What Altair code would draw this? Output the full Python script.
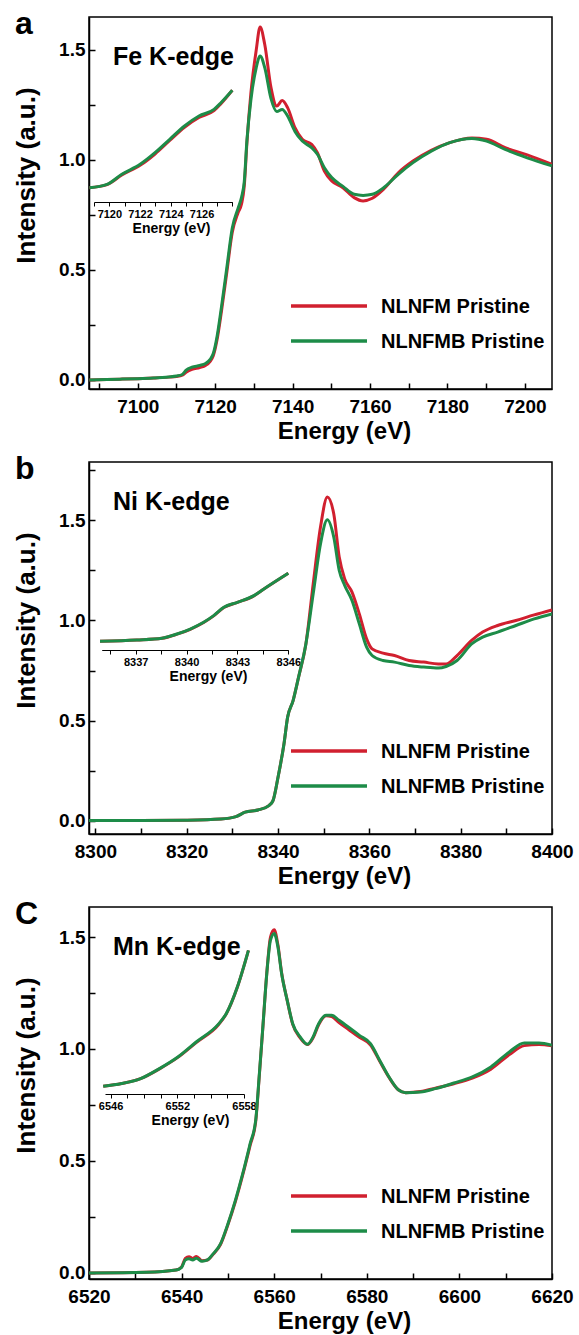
import altair as alt
import pandas as pd

SERIES = ["NLNFM Pristine", "NLNFMB Pristine"]
COLORS = ["#d1202f", "#1d8c48"]
FONT = "Liberation Sans"
PANELS = ["a", "b", "C"]
EDGES = ["Fe K-edge", "Ni K-edge", "Mn K-edge"]

# ---------------- Panel a: Fe K-edge ----------------
FE_E = [7087.5, 7092, 7096, 7100, 7104, 7108, 7110, 7111.5, 7112.5, 7114, 7116, 7117.5,
        7118.7, 7119.5, 7120.5, 7121.6, 7123, 7124.4, 7125.9, 7126.8, 7127.5, 7128.2, 7129.2,
        7130.6, 7131.6, 7132.8, 7134.4, 7135.9, 7137.3, 7138.7, 7140.6, 7142.5, 7144.9, 7146.4,
        7148.2, 7150.1, 7153, 7155.9, 7158.2, 7160.6, 7163.5, 7167.3, 7171.1, 7175.8, 7180.6,
        7186.3, 7190.1, 7194.9, 7200.6, 7207]
FE_NLNFM = [0.0, 0.002, 0.004, 0.006, 0.009, 0.013, 0.016, 0.022, 0.035, 0.048, 0.057, 0.066,
            0.085, 0.11, 0.185, 0.31, 0.49, 0.67, 0.76, 0.8, 0.88, 1.08, 1.3,
            1.5, 1.605, 1.525, 1.33, 1.245, 1.27, 1.238, 1.147, 1.094, 1.071, 1.033,
            0.95, 0.905, 0.874, 0.829, 0.814, 0.826, 0.867, 0.942, 0.995, 1.044, 1.079,
            1.1, 1.094, 1.056, 1.023, 0.98]
FE_NLNFMB = [0.0, 0.002, 0.004, 0.006, 0.009, 0.014, 0.018, 0.025, 0.045, 0.058, 0.066, 0.075,
             0.094, 0.12, 0.2, 0.33, 0.51, 0.69, 0.78, 0.83, 0.9, 1.09, 1.27,
             1.42, 1.473, 1.42, 1.28, 1.22, 1.23, 1.2, 1.13, 1.086, 1.056, 1.026,
             0.965, 0.92, 0.88, 0.844, 0.839, 0.844, 0.874, 0.935, 0.988, 1.04, 1.079,
             1.098, 1.086, 1.048, 1.01, 0.973]
FE_IN_E = [7118.7, 7119.85, 7120.81, 7122.0, 7122.97, 7123.93, 7124.89, 7125.83, 7126.81, 7127.26, 7128.0]
FE_IN_NLNFM = [0.102, 0.124, 0.193, 0.262, 0.343, 0.44, 0.534, 0.604, 0.652, 0.702, 0.798]
FE_IN_NLNFMB = [0.102, 0.126, 0.198, 0.269, 0.352, 0.448, 0.543, 0.614, 0.662, 0.709, 0.798]

# ---------------- Panel b: Ni K-edge ----------------
NI_E = [8298.6, 8305, 8310, 8319.5, 8327.5, 8330.8, 8332.8, 8335.6, 8338, 8338.9, 8340, 8341.3,
        8342.1, 8343.3, 8344.5, 8346.1, 8347.7, 8349.3, 8350.8, 8352.2, 8353.4, 8354.6, 8356.2,
        8357.8, 8359.4, 8360.6, 8363, 8365.5, 8368.7, 8371.9, 8375.1, 8376.8, 8379.2, 8382.4,
        8384.8, 8388.1, 8392.1, 8396.1, 8400]
NI_NLNFM = [0.0, 0.0, 0.0, 0.002, 0.008, 0.02, 0.042, 0.053, 0.075, 0.1, 0.217, 0.383,
            0.517, 0.6, 0.717, 0.883, 1.183, 1.467, 1.617, 1.533, 1.317, 1.208, 1.142,
            1.033, 0.908, 0.858, 0.837, 0.825, 0.8, 0.792, 0.783, 0.783, 0.825, 0.9,
            0.942, 0.975, 1.0, 1.028, 1.053]
NI_NLNFMB = [0.0, 0.0, 0.0, 0.002, 0.008, 0.02, 0.042, 0.053, 0.075, 0.1, 0.217, 0.383,
             0.517, 0.6, 0.717, 0.883, 1.133, 1.383, 1.503, 1.417, 1.25, 1.175, 1.1,
             0.983, 0.867, 0.825, 0.8, 0.792, 0.775, 0.767, 0.762, 0.77, 0.8, 0.883,
             0.917, 0.942, 0.975, 1.008, 1.033]
NI_IN_E = [8334.9, 8337.07, 8338.55, 8339.44, 8340.22, 8341.01, 8341.6, 8342.2, 8343.0, 8343.97, 8344.56, 8346.0]
NI_IN_NLNFM = [0.05, 0.066, 0.087, 0.137, 0.197, 0.279, 0.36, 0.462, 0.524, 0.605, 0.687, 0.88]
NI_IN_NLNFMB = [0.05, 0.066, 0.087, 0.139, 0.2, 0.282, 0.363, 0.465, 0.526, 0.607, 0.689, 0.88]

# ---------------- Panel c: Mn K-edge ----------------
MN_E = [6520, 6532.4, 6538.8, 6540, 6540.8, 6541.6, 6542.4, 6543.2, 6544.4, 6545.6, 6546.8,
        6548.4, 6550, 6551.6, 6553.2, 6554.8, 6556, 6556.8, 6557.6, 6558.4, 6559.2, 6560,
        6560.8, 6561.6, 6562.8, 6564, 6565.6, 6567.2, 6568.4, 6569.6, 6571.2, 6572.4, 6574,
        6576, 6578.4, 6580.8, 6582.8, 6584.8, 6586.8, 6588.4, 6591.6, 6594.8, 6598.8, 6602.8,
        6606.8, 6610.8, 6614, 6617.2, 6620]
MN_NLNFM = [0.0, 0.003, 0.013, 0.027, 0.065, 0.072, 0.065, 0.074, 0.055, 0.058, 0.083,
            0.127, 0.215, 0.318, 0.438, 0.57, 0.675, 0.885, 1.11, 1.34, 1.5, 1.532,
            1.465, 1.34, 1.218, 1.11, 1.05, 1.02, 1.05, 1.108, 1.148, 1.145, 1.118,
            1.088, 1.052, 1.018, 0.945, 0.873, 0.818, 0.805, 0.81, 0.825, 0.845, 0.87,
            0.91, 0.975, 1.015, 1.02, 1.014]
MN_NLNFMB = [0.0, 0.003, 0.013, 0.025, 0.058, 0.063, 0.058, 0.066, 0.052, 0.058, 0.085,
             0.13, 0.219, 0.323, 0.443, 0.577, 0.681, 0.89, 1.113, 1.337, 1.486, 1.516,
             1.456, 1.337, 1.218, 1.113, 1.054, 1.021, 1.054, 1.113, 1.151, 1.151, 1.128,
             1.098, 1.061, 1.024, 0.949, 0.875, 0.818, 0.805, 0.808, 0.823, 0.848, 0.875,
             0.92, 0.987, 1.027, 1.027, 1.016]
MN_IN_E = [6545.34, 6547.0, 6548.7, 6550.4, 6552.05, 6553.7, 6555.74, 6556.4, 6557.4, 6558.4]
MN_IN_NLNFM = [0.05, 0.074, 0.117, 0.204, 0.305, 0.436, 0.598, 0.688, 0.924, 1.25]
MN_IN_NLNFMB = [0.05, 0.074, 0.118, 0.206, 0.308, 0.441, 0.603, 0.691, 0.926, 1.25]

# axis ticks / labels
FE_XTICKS = list(range(7090, 7201, 10))
NI_XTICKS = list(range(8300, 8401, 10))
MN_XTICKS = list(range(6520, 6621, 10))
Y_TICKS_AC = [0, 0.25, 0.5, 0.75, 1.0, 1.25, 1.5]
Y_TICKS_B = [0, 0.25, 0.5, 0.75, 1.0, 1.25, 1.5, 1.75]
FE_IN_TICKS = list(range(7119, 7129))
FE_IN_LABELS = [7120, 7122, 7124, 7126]
NI_IN_TICKS = [8335.5, 8337, 8338.5, 8340, 8341.5, 8343, 8344.5, 8346]
NI_IN_LABELS = [8337, 8340, 8343, 8346]
MN_IN_TICKS = [6546, 6547.5, 6549, 6550.5, 6552, 6553.5, 6555, 6556.5, 6558]
MN_IN_LABELS = [6546, 6552, 6558]

W, H = 463, 372
SCALE_COLOR = alt.Scale(domain=SERIES, range=COLORS)


def long_df(E, a, b):
    return pd.DataFrame({
        "E": list(E) + list(E),
        "I": list(a) + list(b),
        "series": [SERIES[0]] * len(E) + [SERIES[1]] * len(E),
    })


def label_expr(vals):
    arr = ",".join(str(v) for v in vals)
    return f"indexof([{arr}], datum.value) >= 0 ? format(datum.value, 'd') : ''"


def panel(letter, edge, E, a, b, xdom, ydom, xticks, yticks,
          iE, ia, ib, idom, irange, iydom, iyrange, iticks, ilabels, ioffset, ititleX):
    main = alt.Chart(long_df(E, a, b)).mark_line(
        strokeWidth=3, clip=True, interpolate="monotone").encode(
        x=alt.X("E:Q", scale=alt.Scale(domain=xdom, nice=False, zero=False),
                axis=alt.Axis(values=xticks,
                              labelExpr="datum.value % 20 == 0 ? format(datum.value, 'd') : ''",
                              title="Energy (eV)", titleX=255, titleY=30, titleBaseline="top",
                              titleFontSize=24, labelFontSize=19, labelPadding=14,
                              tickSize={"expr": "-6"})),
        y=alt.Y("I:Q", scale=alt.Scale(domain=ydom, nice=False, zero=False),
                axis=alt.Axis(values=yticks,
                              labelExpr="datum.value % 0.5 == 0 ? format(datum.value, '.1f') : ''",
                              title="Intensity (a.u.)", titleX=-55, titleY=158, titleAngle=270,
                              titleAlign="center", titleBaseline="alphabetic",
                              titleFontSize=26, labelFontSize=19, labelPadding=10,
                              tickSize={"expr": "-6"})),
        color=alt.Color("series:N", scale=SCALE_COLOR, legend=None),
        detail="series:N",
    )
    inset = alt.Chart(long_df(iE, ia, ib)).mark_line(
        strokeWidth=3, interpolate="monotone").encode(
        x=alt.X("E:Q", scale=alt.Scale(domain=idom, range=irange, nice=False, zero=False),
                axis=alt.Axis(orient="bottom", offset=ioffset, values=iticks,
                              labelExpr=label_expr(ilabels), title="Energy (eV)",
                              titleX=ititleX, titleFontSize=14, labelFontSize=11,
                              labelPadding=2, titlePadding=2, tickSize=4, tickWidth=1,
                              domainWidth=1.2)),
        y=alt.Y("I:Q", scale=alt.Scale(domain=iydom, range=iyrange, nice=False, zero=False),
                axis=None),
        color=alt.Color("series:N", scale=SCALE_COLOR, legend=None),
    )
    edge_txt = alt.Chart(pd.DataFrame({"t": [edge]})).mark_text(
        align="left", baseline="alphabetic", fontSize=25, fontWeight="bold", font=FONT
    ).encode(x=alt.value(24), y=alt.value(48), text="t:N")
    letter_txt = alt.Chart(pd.DataFrame({"t": [letter]})).mark_text(
        align="left", baseline="alphabetic", fontSize=32, fontWeight="bold", font=FONT
    ).encode(x=alt.value(-74), y=alt.value(17), text="t:N")
    layers = [main, inset, edge_txt, letter_txt]
    for i, s in enumerate(SERIES):
        d = pd.DataFrame({"series": [s]})
        layers.append(alt.Chart(d).mark_rule(strokeWidth=3.5).encode(
            x=alt.value(202), x2=alt.value(278), y=alt.value(289 + 35 * i),
            color=alt.value(COLORS[i])))
        layers.append(alt.Chart(d).mark_text(
            align="left", baseline="middle", fontSize=20, fontWeight="bold", font=FONT,
            color="black").encode(x=alt.value(292), y=alt.value(290 + 35 * i), text="series:N"))
    return alt.layer(*layers).resolve_scale(x="independent", y="independent").properties(
        width=W, height=H)


pa = panel("a", EDGES[0], FE_E, FE_NLNFM, FE_NLNFMB, [7087.4, 7207], [-0.041, 1.65],
           FE_XTICKS, Y_TICKS_AC, FE_IN_E, FE_IN_NLNFM, FE_IN_NLNFMB,
           [7119, 7128], [5, 143.3], [0.1, 0.8], [171, 73], FE_IN_TICKS, FE_IN_LABELS,
           -187, 82)
pb = panel("b", EDGES[1], NI_E, NI_NLNFM, NI_NLNFMB, [8298.6, 8400], [-0.067, 1.792],
           NI_XTICKS, Y_TICKS_B, NI_IN_E, NI_IN_NLNFM, NI_IN_NLNFMB,
           [8335, 8346], [12.7, 199.3], [0.05, 0.88], [179.3, 111.3], NI_IN_TICKS, NI_IN_LABELS,
           -184, 119)
pc = panel("C", EDGES[2], MN_E, MN_NLNFM, MN_NLNFMB, [6520, 6620], [-0.027, 1.634],
           MN_XTICKS, Y_TICKS_AC, MN_IN_E, MN_IN_NLNFM, MN_IN_NLNFMB,
           [6545.5, 6558], [16, 155], [0.05, 1.25], [179.3, 43.3], MN_IN_TICKS, MN_IN_LABELS,
           -185, 101)

chart = alt.vconcat(pa, pb, pc, spacing=73, bounds="flush").properties(
    padding={"left": 12, "top": 7, "right": 2, "bottom": 2}
).configure(font=FONT).configure_view(
    stroke="black", strokeWidth=1.5, fill=None
).configure_axis(
    labelFont=FONT, titleFont=FONT, labelFontWeight="bold", titleFontWeight="bold",
    labelColor="black", titleColor="black", domainColor="black", tickColor="black",
    domainWidth=1.5, tickWidth=1.5, grid=False, labelFlush=False, labelOverlap=False
)

chart.save("out.html", embed_options={"renderer": "svg", "actions": False})
